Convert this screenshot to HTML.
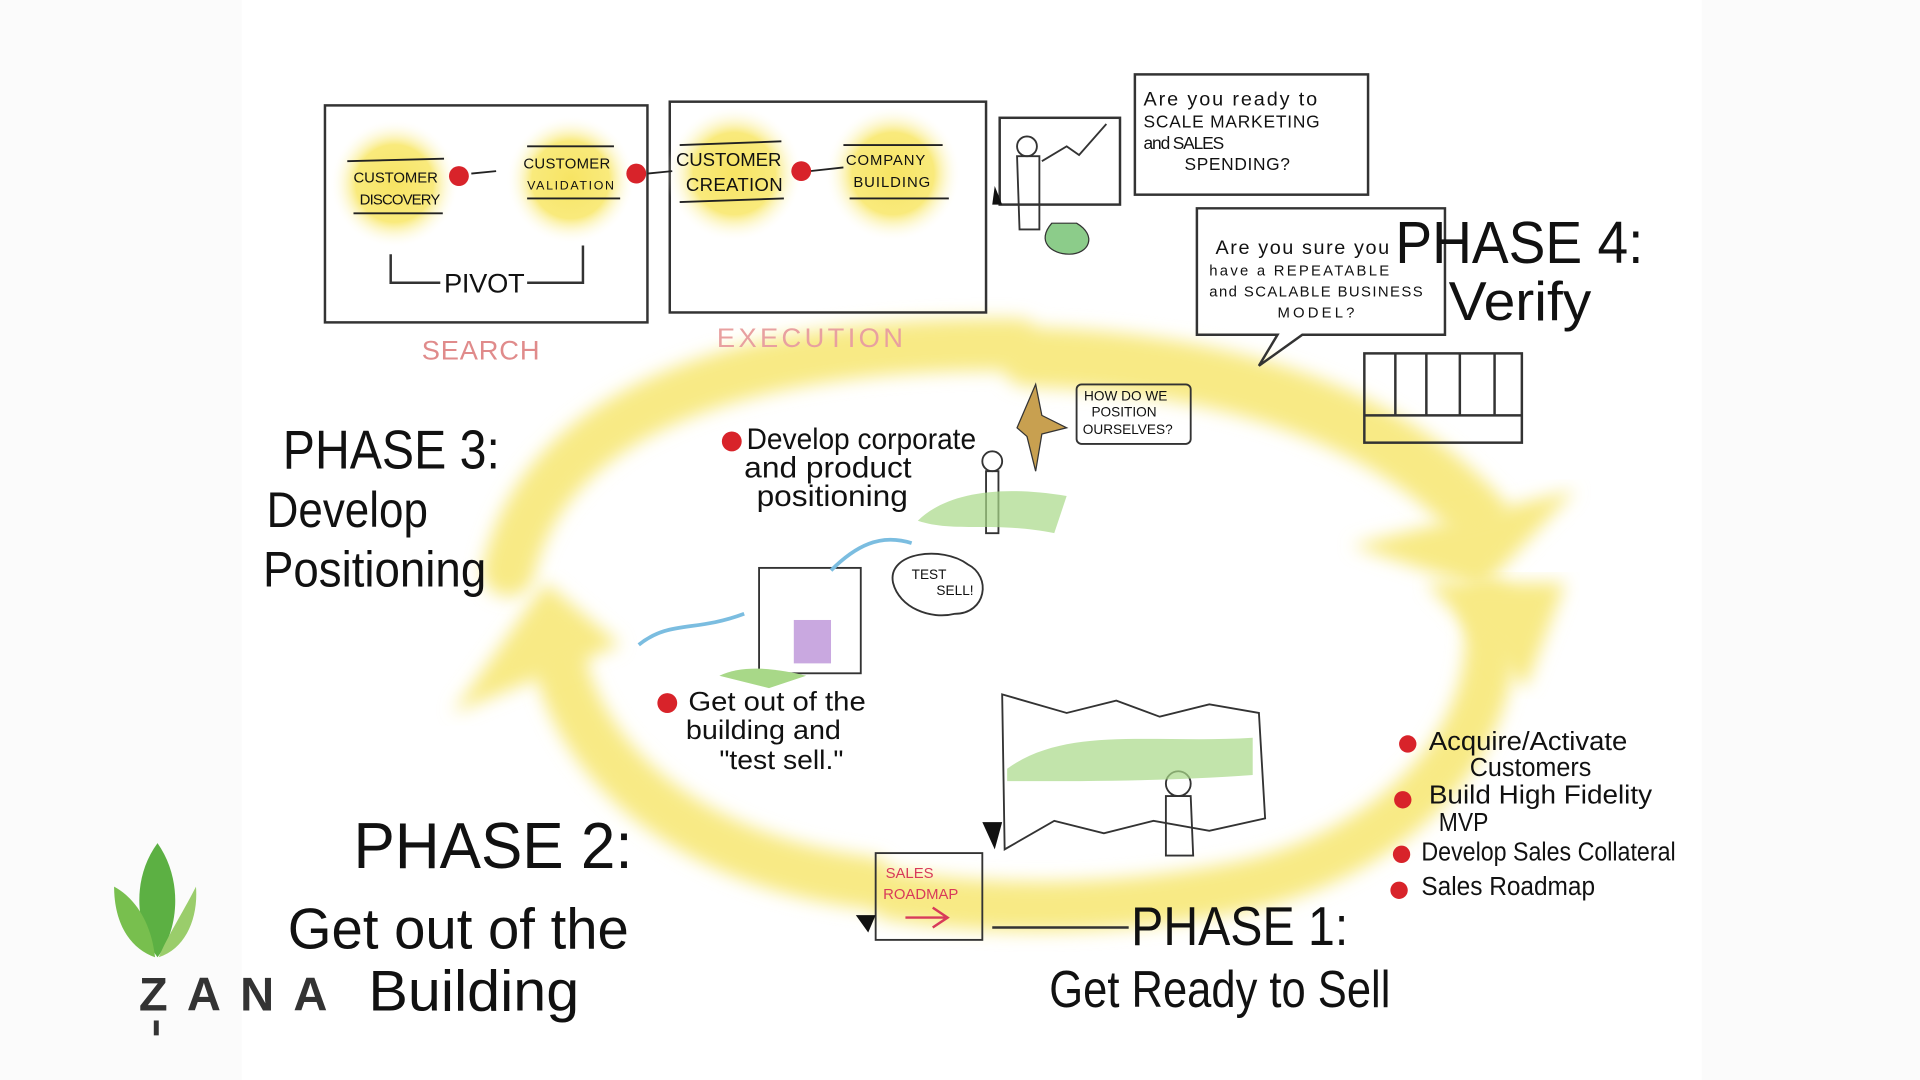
<!DOCTYPE html>
<html><head><meta charset="utf-8"><style>
html,body{margin:0;padding:0;background:#fcfcfc;}
svg{display:block}
text{font-family:"Liberation Sans",sans-serif;fill:#111}
</style></head><body>
<svg width="1920" height="1080" viewBox="0 0 1548 871" preserveAspectRatio="none" xmlns="http://www.w3.org/2000/svg">
<defs>
<radialGradient id="glow"><stop offset="0" stop-color="#f7e463"/><stop offset="0.6" stop-color="#f9ea7c"/><stop offset="1" stop-color="#fff" stop-opacity="0"/></radialGradient>
<filter id="blur"><feGaussianBlur stdDeviation="7"/></filter>
</defs>
<rect x="0" y="0" width="1548" height="871" fill="#fbfbfb"/>
<rect x="195" y="0" width="1177" height="871" fill="#ffffff"/>

<g filter="url(#blur)" fill="none" stroke="#f8ea85" stroke-linecap="round">
<path d="M820,278 C600,275 440,330 410,460" stroke-width="42"/>
<path d="M830,288 C980,292 1110,330 1190,415" stroke-width="48"/>
<path d="M1200,490 C1215,600 1120,690 1000,715 C900,735 800,735 720,722" stroke-width="40"/>
<path d="M700,712 C560,695 470,620 450,530" stroke-width="42"/>
</g>
<polygon points="365,575 440,470 500,520" fill="#f8ea85" filter="url(#blur)"/>
<polygon points="1090,440 1270,395 1195,475" fill="#f8ea85" filter="url(#blur)"/>
<polygon points="1150,470 1262,470 1230,555" fill="#f8ea85" filter="url(#blur)"/>

<g fill="none" stroke="#333" stroke-width="2">
<rect x="262" y="85" width="260" height="175"/>
<rect x="540" y="82" width="255" height="170"/>
<rect x="806" y="95" width="97" height="70"/>
<rect x="915" y="60" width="188" height="97"/>
<path d="M965,168 L1165,168 L1165,270 L1050,270 L1015,295 L1030,270 L965,270 Z"/>
<rect x="1100" y="285" width="127" height="72"/>
<path d="M1100,335 H1227 M1125,285 V335 M1150,285 V335 M1177,285 V335 M1205,285 V335"/>
<path d="M315,205 V228 H355 M425,228 H470 V198"/>
</g>
<circle cx="318" cy="148" r="52" fill="url(#glow)"/>
<circle cx="460" cy="145" r="52" fill="url(#glow)"/>
<circle cx="592" cy="140" r="55" fill="url(#glow)"/>
<circle cx="720" cy="140" r="55" fill="url(#glow)"/>
<g stroke="#222" stroke-width="1.5">
<line x1="280" y1="130" x2="358" y2="128"/><line x1="285" y1="172" x2="357" y2="172"/>
<line x1="425" y1="118" x2="495" y2="118"/><line x1="425" y1="160" x2="500" y2="160"/>
<line x1="548" y1="117" x2="630" y2="114"/><line x1="548" y1="163" x2="632" y2="160"/>
<line x1="680" y1="117" x2="760" y2="117"/><line x1="685" y1="160" x2="765" y2="160"/>
<line x1="380" y1="140" x2="400" y2="138"/><line x1="522" y1="140" x2="542" y2="138"/><line x1="653" y1="138" x2="680" y2="135"/>
</g>
<g fill="#d8232a"><circle cx="370" cy="142" r="8"/><circle cx="513" cy="140" r="8"/><circle cx="646" cy="138" r="8"/></g>
<g font-size="12">
<text x="285" y="147" textLength="68">CUSTOMER</text><text x="290" y="165" textLength="65">DISCOVERY</text>
<text x="422" y="136" textLength="70">CUSTOMER</text><text x="425" y="153" font-size="10" textLength="70">VALIDATION</text>
<text x="545" y="134" font-size="15" textLength="85">CUSTOMER</text><text x="553" y="154" font-size="15" textLength="78">CREATION</text>
<text x="682" y="133" textLength="64">COMPANY</text><text x="688" y="151" textLength="62">BUILDING</text>
<text x="358" y="236" font-size="22" textLength="65">PIVOT</text>
</g>
<text x="340" y="290" font-size="22" style="fill:#e08b8b" textLength="95">SEARCH</text>
<text x="578" y="280" font-size="22" style="fill:#e8a0a0" textLength="150">EXECUTION</text>
<text x="922" y="85" font-size="16" textLength="140">Are you ready to</text>
<text x="922" y="103" font-size="14" textLength="142">SCALE MARKETING</text>
<text x="922" y="120" font-size="14" textLength="65">and SALES</text>
<text x="955" y="137" font-size="14" textLength="85">SPENDING?</text>
<text x="980" y="205" font-size="16" textLength="140">Are you sure you</text>
<text x="975" y="222" font-size="12" textLength="145">have a REPEATABLE</text>
<text x="975" y="239" font-size="12" textLength="172">and SCALABLE BUSINESS</text>
<text x="1030" y="256" font-size="12" textLength="62">MODEL?</text>
<text x="1125" y="212" font-size="48" textLength="200" lengthAdjust="spacingAndGlyphs">PHASE 4:</text>
<text x="1168" y="258" font-size="44" textLength="115" lengthAdjust="spacingAndGlyphs">Verify</text>
<text x="228" y="378" font-size="44" textLength="175" lengthAdjust="spacingAndGlyphs">PHASE 3:</text>
<text x="215" y="425" font-size="40" textLength="130" lengthAdjust="spacingAndGlyphs">Develop</text>
<text x="212" y="473" font-size="40" textLength="180" lengthAdjust="spacingAndGlyphs">Positioning</text>
<text x="285" y="700" font-size="52" textLength="225" lengthAdjust="spacingAndGlyphs">PHASE 2:</text>
<text x="232" y="765" font-size="46" textLength="275" lengthAdjust="spacingAndGlyphs">Get out of the</text>
<text x="297" y="815" font-size="46" textLength="170" lengthAdjust="spacingAndGlyphs">Building</text>
<text x="912" y="762" font-size="44" textLength="175" lengthAdjust="spacingAndGlyphs">PHASE 1:</text>
<text x="846" y="812" font-size="42" textLength="275" lengthAdjust="spacingAndGlyphs">Get Ready to Sell</text>

<circle cx="590" cy="356" r="8" fill="#d8232a"/>
<text x="602" y="362" font-size="24" textLength="185" lengthAdjust="spacingAndGlyphs">Develop corporate</text>
<text x="600" y="385" font-size="24" textLength="135" lengthAdjust="spacingAndGlyphs">and product</text>
<text x="610" y="408" font-size="24" textLength="122" lengthAdjust="spacingAndGlyphs">positioning</text>
<circle cx="538" cy="567" r="8" fill="#d8232a"/>
<text x="555" y="573" font-size="22" textLength="143" lengthAdjust="spacingAndGlyphs">Get out of the</text>
<text x="553" y="596" font-size="22" textLength="125" lengthAdjust="spacingAndGlyphs">building and</text>
<text x="580" y="620" font-size="22" textLength="100" lengthAdjust="spacingAndGlyphs">"test sell."</text>
<g fill="none" stroke="#333" stroke-width="1.5">
<rect x="868" y="310" width="92" height="48" rx="4"/>
<rect x="612" y="458" width="82" height="85"/>
<path d="M720,470 C715,445 760,440 780,455 C800,465 795,495 770,495 C750,500 725,490 720,470Z"/>
<path d="M808,560 L860,575 L900,565 L935,578 L975,568 L1015,575 L1020,660 L975,670 L930,662 L890,672 L850,662 L810,685 Z"/>
<rect x="706" y="688" width="86" height="70"/>
<circle cx="950" cy="632" r="10"/><path d="M940,642 L960,642 L962,690 L940,690Z"/>
<circle cx="800" cy="372" r="8"/><path d="M795,380 L805,380 L805,430 L795,430Z"/>
<circle cx="828" cy="118" r="8"/><path d="M820,126 L838,126 L838,185 L822,185Z"/>
<path d="M840,130 L860,118 L870,125 L892,100"/>
</g>
<path d="M820,345 L835,310 L840,335 L860,345 L840,350 L835,380 L828,352 Z" fill="#c8a050" stroke="#333"/>
<path d="M740,420 C760,400 800,390 860,400 L850,430 C800,420 770,430 740,420Z" fill="#a8d888" opacity=".7"/>
<path d="M812,620 C860,585 930,600 1010,595 L1010,625 C940,630 880,630 812,630Z" fill="#a8d888" opacity=".7"/>
<path d="M515,520 C540,500 560,510 600,495" stroke="#7bbde0" stroke-width="3" fill="none"/>
<path d="M670,460 C690,440 710,430 735,438" stroke="#7bbde0" stroke-width="3" fill="none"/>
<path d="M580,545 C600,535 630,540 650,545 L620,555Z" fill="#a8d888"/>
<rect x="640" y="500" width="30" height="35" fill="#c9a8e0"/>
<path d="M848,180 C835,195 848,205 862,205 C878,205 885,190 868,180Z" fill="#8ccc8a" stroke="#333"/>
<polygon points="690,738 706,738 700,752" fill="#111"/>
<polygon points="792,663 808,663 802,685" fill="#111"/>
<polygon points="802,150 808,165 800,165" fill="#111"/>
<text x="874" y="323" font-size="11">HOW DO WE</text><text x="880" y="336" font-size="11">POSITION</text><text x="873" y="350" font-size="11">OURSELVES?</text>
<text x="735" y="467" font-size="11">TEST</text><text x="755" y="480" font-size="11">SELL!</text>
<text x="714" y="708" font-size="12" style="fill:#d83a5a">SALES</text>
<text x="712" y="725" font-size="12" style="fill:#d83a5a">ROADMAP</text>
<path d="M730,740 H762 M752,732 L764,740 L752,748" stroke="#d83a5a" stroke-width="2" fill="none"/>
<line x1="800" y1="748" x2="910" y2="748" stroke="#333" stroke-width="2"/>

<g fill="#d8232a"><circle cx="1135" cy="600" r="7"/><circle cx="1131" cy="645" r="7"/><circle cx="1130" cy="689" r="7"/><circle cx="1128" cy="718" r="7"/></g>
<g font-size="21">
<text x="1152" y="605" textLength="160" lengthAdjust="spacingAndGlyphs">Acquire/Activate</text><text x="1185" y="626" textLength="98" lengthAdjust="spacingAndGlyphs">Customers</text>
<text x="1152" y="648" textLength="180" lengthAdjust="spacingAndGlyphs">Build High Fidelity</text><text x="1160" y="670" textLength="40" lengthAdjust="spacingAndGlyphs">MVP</text>
<text x="1146" y="694" textLength="205" lengthAdjust="spacingAndGlyphs">Develop Sales Collateral</text>
<text x="1146" y="722" textLength="140" lengthAdjust="spacingAndGlyphs">Sales Roadmap</text>
</g>

<path d="M127,680 C105,710 110,750 127,772 C144,750 148,710 127,680Z" fill="#5cb043"/>
<path d="M92,715 C92,745 105,765 125,772 C122,745 110,725 92,715Z" fill="#78bf4e"/>
<path d="M158,715 C148,735 135,755 128,772 C150,765 160,740 158,715Z" fill="#9acd6b"/>
<text x="112" y="815" font-size="38" font-weight="bold" style="fill:#333" textLength="152">ZANA</text>
<rect x="124" y="823" width="4" height="12" fill="#333"/>
</svg>
</body></html>
